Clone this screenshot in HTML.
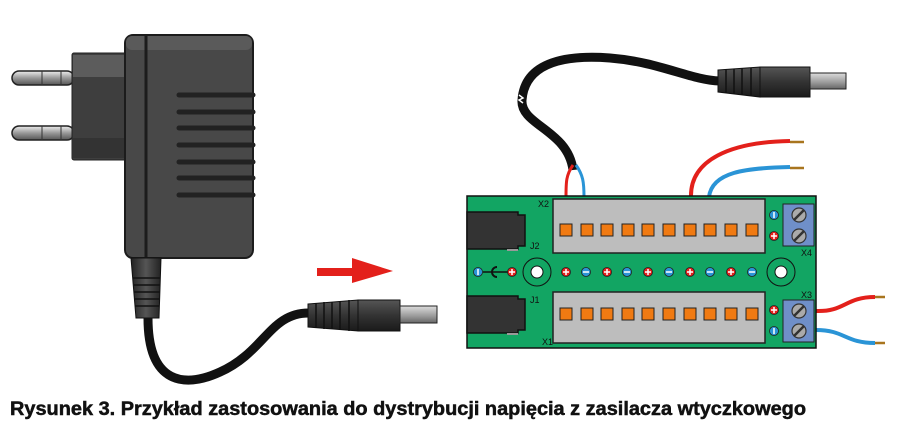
<!DOCTYPE html>
<html><head><meta charset="utf-8"><style>
html,body{margin:0;padding:0;background:#fff;width:900px;height:423px;overflow:hidden}
svg{display:block}
</style></head><body>
<svg width="900" height="423" viewBox="0 0 900 423" xmlns="http://www.w3.org/2000/svg">
<defs>
<linearGradient id="pin" x1="0" y1="0" x2="0" y2="1"><stop offset="0" stop-color="#eee"/><stop offset="0.5" stop-color="#999"/><stop offset="1" stop-color="#555"/></linearGradient>
<linearGradient id="tip" x1="0" y1="0" x2="0" y2="1"><stop offset="0" stop-color="#ddd"/><stop offset="0.6" stop-color="#999"/><stop offset="1" stop-color="#666"/></linearGradient>
<linearGradient id="plg" x1="0" y1="0" x2="0" y2="1"><stop offset="0" stop-color="#555"/><stop offset="0.5" stop-color="#333"/><stop offset="1" stop-color="#1a1a1a"/></linearGradient>
<linearGradient id="plgv" x1="0" y1="0" x2="1" y2="0"><stop offset="0" stop-color="#222"/><stop offset="0.5" stop-color="#555"/><stop offset="1" stop-color="#222"/></linearGradient>
</defs>
<g stroke="#222" stroke-width="1.5">
<rect x="12" y="71" width="62" height="14" rx="7" fill="url(#pin)"/>
<rect x="12" y="126" width="62" height="14" rx="7" fill="url(#pin)"/>
</g>
<line x1="42" y1="71" x2="42" y2="85" stroke="#333"/><line x1="61" y1="71" x2="61" y2="85" stroke="#333"/>
<line x1="42" y1="126" x2="42" y2="140" stroke="#333"/><line x1="61" y1="126" x2="61" y2="140" stroke="#333"/>
<rect x="72" y="53" width="56" height="107" rx="2" fill="#3e3e3e" stroke="#222"/>
<rect x="73" y="55" width="54" height="22" fill="#5c5c5c"/>
<rect x="73" y="138" width="54" height="20" fill="#333"/>
<rect x="125" y="35" width="128" height="223" rx="8" fill="#484848" stroke="#1c1c1c" stroke-width="2"/>
<rect x="126" y="36" width="126" height="14" rx="6" fill="#5a5a5a"/>
<line x1="146" y1="36" x2="146" y2="257" stroke="#1c1c1c" stroke-width="3"/>
<g stroke="#222" stroke-width="5" stroke-linecap="round">
<line x1="179" y1="95" x2="253" y2="95"/><line x1="179" y1="112" x2="253" y2="112"/><line x1="179" y1="128" x2="253" y2="128"/><line x1="179" y1="145" x2="253" y2="145"/><line x1="179" y1="162" x2="253" y2="162"/><line x1="179" y1="178" x2="253" y2="178"/><line x1="179" y1="195" x2="253" y2="195"/>
</g>
<path d="M131 258 L161 258 L159 318 L136 318 Z" fill="url(#plgv)" stroke="#111"/>
<g stroke="#111" stroke-width="1.5"><line x1="133" y1="278" x2="160" y2="278"/><line x1="134" y1="285" x2="160" y2="285"/><line x1="134" y1="292" x2="160" y2="292"/><line x1="135" y1="299" x2="159" y2="299"/><line x1="135" y1="306" x2="159" y2="306"/></g>
<path d="M148 318 C148 385 185 388 220 372 C265 352 270 312 310 313" fill="none" stroke="#111" stroke-width="9"/>
<path d="M234 345 l4 3 l-4 2 l4 3" fill="none" stroke="#fff" stroke-width="1.5"/>
<path d="M308 304 L358 300 L358 331 L308 327 Z" fill="url(#plg)" stroke="#111"/>
<g stroke="#111" stroke-width="1.5"><line x1="316" y1="303" x2="316" y2="328"/><line x1="324" y1="302" x2="324" y2="329"/><line x1="332" y1="302" x2="332" y2="329"/><line x1="340" y1="301" x2="340" y2="330"/><line x1="349" y1="300" x2="349" y2="331"/></g>
<rect x="358" y="300" width="42" height="31" fill="url(#plg)" stroke="#111"/>
<rect x="400" y="306" width="37" height="17" fill="url(#tip)" stroke="#222"/>
<path d="M317 268 L352 268 L352 258 L393 271 L352 283 L352 276 L317 276 Z" fill="#e3201b"/>
<path d="M573 170 C568 130 520 125 522 100 C525 60 570 55 610 58 C660 62 690 80 720 81" fill="none" stroke="#111" stroke-width="9"/>
<path d="M519 95 l4 3 l-4 2 l4 3" fill="none" stroke="#fff" stroke-width="1.5"/>
<path d="M718 70 L760 67 L760 97 L718 92 Z" fill="url(#plg)" stroke="#111"/>
<g stroke="#111" stroke-width="1.5"><line x1="726" y1="69" x2="726" y2="93"/><line x1="734" y1="69" x2="734" y2="94"/><line x1="742" y1="68" x2="742" y2="95"/><line x1="751" y1="68" x2="751" y2="96"/></g>
<rect x="760" y="67" width="50" height="30" fill="url(#plg)" stroke="#111"/>
<rect x="810" y="73" width="36" height="16" fill="url(#tip)" stroke="#222"/>
<path d="M573 165 C566 175 566 182 566 197" fill="none" stroke="#e3201b" stroke-width="3"/>
<path d="M576 165 C583 175 584 182 584 197" fill="none" stroke="#2a94d6" stroke-width="3"/>
<path d="M691 197 C690 160 730 142 790 141" fill="none" stroke="#e3201b" stroke-width="4"/>
<path d="M709 197 C712 172 745 168 790 167" fill="none" stroke="#2a94d6" stroke-width="4"/>
<line x1="790" y1="142" x2="804" y2="142" stroke="#a8751e" stroke-width="2.5"/>
<line x1="790" y1="168" x2="804" y2="168" stroke="#a8751e" stroke-width="2.5"/>
<path d="M816 311 C845 312 845 297 875 297" fill="none" stroke="#e3201b" stroke-width="4"/>
<path d="M816 330 C845 330 845 343 875 343" fill="none" stroke="#2a94d6" stroke-width="4"/>
<line x1="875" y1="297" x2="885" y2="297" stroke="#a8751e" stroke-width="2.5"/>
<line x1="875" y1="343" x2="885" y2="343" stroke="#a8751e" stroke-width="2.5"/>
<rect x="467" y="196" width="349" height="152" fill="#12a563" stroke="#111" stroke-width="1.5"/>
<path d="M467 212 L518 212 L518 215 L525 215 L525 246 L518 246 L518 249 L467 249 Z" fill="#333" stroke="#111" stroke-width="1.5"/>
<rect x="507" y="249" width="11" height="2" fill="#999"/>
<path d="M467 296 L518 296 L518 299 L525 299 L525 330 L518 330 L518 333 L467 333 Z" fill="#333" stroke="#111" stroke-width="1.5"/>
<rect x="507" y="333" width="11" height="2" fill="#999"/>
<rect x="553" y="199" width="212" height="54" fill="#bdbdbd" stroke="#222" stroke-width="1.5"/>
<rect x="553" y="292" width="212" height="51" fill="#bdbdbd" stroke="#222" stroke-width="1.5"/>
<g stroke="#222" stroke-width="1" fill="#f07a12">
<rect x="560" y="224" width="12" height="12"/><rect x="581" y="224" width="12" height="12"/><rect x="601" y="224" width="12" height="12"/><rect x="622" y="224" width="12" height="12"/><rect x="642" y="224" width="12" height="12"/><rect x="663" y="224" width="12" height="12"/><rect x="684" y="224" width="12" height="12"/><rect x="704" y="224" width="12" height="12"/><rect x="725" y="224" width="12" height="12"/><rect x="746" y="224" width="12" height="12"/>
<rect x="560" y="308" width="12" height="12"/><rect x="581" y="308" width="12" height="12"/><rect x="601" y="308" width="12" height="12"/><rect x="622" y="308" width="12" height="12"/><rect x="642" y="308" width="12" height="12"/><rect x="663" y="308" width="12" height="12"/><rect x="684" y="308" width="12" height="12"/><rect x="704" y="308" width="12" height="12"/><rect x="725" y="308" width="12" height="12"/><rect x="746" y="308" width="12" height="12"/>
</g>
<rect x="783" y="204" width="31" height="42" fill="#6f8fc9" stroke="#222"/>
<rect x="783" y="300" width="31" height="42" fill="#6f8fc9" stroke="#222"/>
<g fill="#aaa" stroke="#333" stroke-width="1.2">
<circle cx="799" cy="215" r="7"/><circle cx="799" cy="236" r="7"/><circle cx="799" cy="311" r="7"/><circle cx="799" cy="331" r="7"/>
</g>
<g stroke="#333" stroke-width="2.5"><line x1="794" y1="220" x2="804" y2="210"/><line x1="794" y1="241" x2="804" y2="231"/><line x1="794" y1="316" x2="804" y2="306"/><line x1="794" y1="336" x2="804" y2="326"/></g>
<circle cx="537" cy="272" r="14" fill="none" stroke="#111"/><circle cx="537" cy="272" r="6" fill="#fff" stroke="#111"/>
<circle cx="781" cy="272" r="14" fill="none" stroke="#111"/><circle cx="781" cy="272" r="6" fill="#fff" stroke="#111"/>
<line x1="483" y1="272" x2="508" y2="272" stroke="#111" stroke-width="1.5"/>
<path d="M497 267 A5 5 0 1 0 497 277" fill="none" stroke="#111" stroke-width="2"/>
<g stroke="#222" stroke-width="0.8">
<circle cx="478" cy="272" r="4.5" fill="#2a94d6"/><circle cx="512" cy="272" r="4.5" fill="#e3201b"/>
<circle cx="566" cy="272" r="4.5" fill="#e3201b"/><circle cx="586" cy="272" r="4.5" fill="#2a94d6"/><circle cx="607" cy="272" r="4.5" fill="#e3201b"/><circle cx="627" cy="272" r="4.5" fill="#2a94d6"/><circle cx="648" cy="272" r="4.5" fill="#e3201b"/><circle cx="669" cy="272" r="4.5" fill="#2a94d6"/><circle cx="690" cy="272" r="4.5" fill="#e3201b"/><circle cx="710" cy="272" r="4.5" fill="#2a94d6"/><circle cx="731" cy="272" r="4.5" fill="#e3201b"/><circle cx="752" cy="272" r="4.5" fill="#2a94d6"/>
<circle cx="774" cy="215" r="4.5" fill="#2a94d6"/><circle cx="774" cy="236" r="4.5" fill="#e3201b"/>
<circle cx="774" cy="310" r="4.5" fill="#e3201b"/><circle cx="774" cy="331" r="4.5" fill="#2a94d6"/>
</g>
<g stroke="#fff" stroke-width="1.5">
<line x1="478" y1="269" x2="478" y2="275"/><line x1="509" y1="272" x2="515" y2="272"/><line x1="512" y1="269" x2="512" y2="275"/>
<line x1="563" y1="272" x2="569" y2="272"/><line x1="566" y1="269" x2="566" y2="275"/>
<line x1="583" y1="272" x2="589" y2="272"/>
<line x1="604" y1="272" x2="610" y2="272"/><line x1="607" y1="269" x2="607" y2="275"/>
<line x1="624" y1="272" x2="630" y2="272"/>
<line x1="645" y1="272" x2="651" y2="272"/><line x1="648" y1="269" x2="648" y2="275"/>
<line x1="666" y1="272" x2="672" y2="272"/>
<line x1="687" y1="272" x2="693" y2="272"/><line x1="690" y1="269" x2="690" y2="275"/>
<line x1="707" y1="272" x2="713" y2="272"/>
<line x1="728" y1="272" x2="734" y2="272"/><line x1="731" y1="269" x2="731" y2="275"/>
<line x1="749" y1="272" x2="755" y2="272"/>
<line x1="774" y1="212" x2="774" y2="218"/><line x1="771" y1="236" x2="777" y2="236"/><line x1="774" y1="233" x2="774" y2="239"/>
<line x1="771" y1="310" x2="777" y2="310"/><line x1="774" y1="307" x2="774" y2="313"/><line x1="774" y1="328" x2="774" y2="334"/>
</g>
<g font-family="Liberation Sans, sans-serif" font-size="9" fill="#111">
<text x="538" y="207">X2</text><text x="530" y="249">J2</text><text x="530" y="303">J1</text><text x="542" y="345">X1</text>
<text x="801" y="256">X4</text><text x="801" y="298">X3</text>
</g>
<text x="10" y="415" font-family="Liberation Sans, sans-serif" font-weight="bold" font-size="19" fill="#111" stroke="#111" stroke-width="0.5" textLength="796" lengthAdjust="spacingAndGlyphs">Rysunek 3. Przykład zastosowania do dystrybucji napięcia z zasilacza wtyczkowego</text>
</svg>
</body></html>
